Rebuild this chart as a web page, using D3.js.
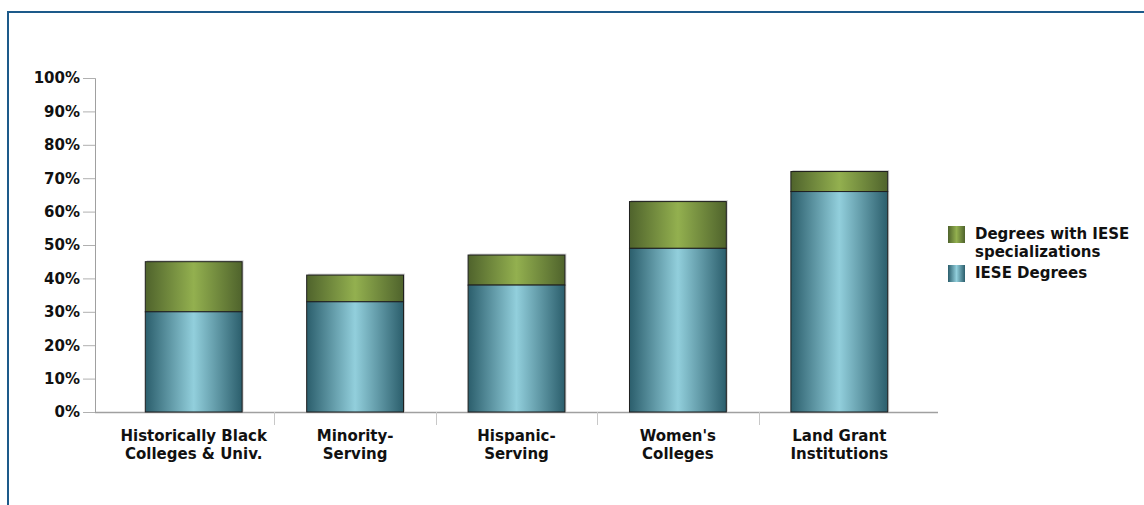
<!DOCTYPE html>
<html>
<head>
<meta charset="utf-8">
<script src="https://cdn.jsdelivr.net/npm/d3@7"></script>
<style>
  html, body { margin: 0; padding: 0; background: #fff; }
  svg { display: block; font-family: "DejaVu Sans", Verdana, sans-serif; font-weight: bold; }
</style>
</head>
<body>
<svg id="chart" width="1144" height="505"></svg>
<script>
// Share of degrees by institution type
const categories = [
  ["Historically Black", "Colleges & Univ."],
  ["Minority-", "Serving"],
  ["Hispanic-", "Serving"],
  ["Women's", "Colleges"],
  ["Land Grant", "Institutions"]
];
const ieseDegrees = [30, 33, 38, 49, 66];
const totalWithSpecializations = [45, 41, 47, 63, 72];
const yTicks = [0, 10, 20, 30, 40, 50, 60, 70, 80, 90, 100];
const legendLabels = [["Degrees with IESE", "specializations"], ["IESE Degrees"]];

const svg = d3.select("#chart");

// frame lines (top and left)
svg.append("line").attr("x1", 8).attr("x2", 1144).attr("y1", 12).attr("y2", 12)
  .attr("stroke", "#1d5a8a").attr("stroke-width", 2);
svg.append("line").attr("x1", 8).attr("x2", 8).attr("y1", 11).attr("y2", 505)
  .attr("stroke", "#1d5a8a").attr("stroke-width", 2);

const defs = svg.append("defs");
function hGrad(id, edge, mid) {
  const g = defs.append("linearGradient").attr("id", id)
    .attr("x1", "0%").attr("x2", "100%").attr("y1", "0%").attr("y2", "0%");
  g.append("stop").attr("offset", "0%").attr("stop-color", edge);
  g.append("stop").attr("offset", "50%").attr("stop-color", mid);
  g.append("stop").attr("offset", "100%").attr("stop-color", edge);
}
hGrad("gBlue", "#2b5e6c", "#92cfdc");
hGrad("gGreen", "#4f632c", "#93b04f");

const idx = d3.range(categories.length);
const x = d3.scaleBand().domain(idx).range([113, 920]).paddingInner(0.4).paddingOuter(0.2);
const y = d3.scaleLinear().domain([0, 100]).range([412, 78]);

// y axis
const yAxis = svg.append("g").attr("transform", "translate(95,0)")
  .call(d3.axisLeft(y).tickValues(yTicks).tickFormat(d => d + "%").tickSize(12).tickPadding(3));
yAxis.select(".domain").attr("stroke", "#a0a0a0").attr("d", "M-12,78.5H0.5V412.5");
yAxis.selectAll(".tick line").attr("stroke", "#b0b0b0");
yAxis.selectAll(".tick text").attr("fill", "#111").style("font-size", "15px")
  .style("font-family", "'DejaVu Sans', Verdana, sans-serif").style("font-weight", "bold");

// x axis baseline and category separators
const xg = svg.append("g");
xg.append("line").attr("x1", 95).attr("x2", 938).attr("y1", 412.5).attr("y2", 412.5)
  .attr("stroke", "#a0a0a0").attr("stroke-width", 1.5);
const step = x.step();
idx.slice(1).forEach(i => {
  const sx = Math.round(x(i) - (step - x.bandwidth()) / 2) + 0.5;
  xg.append("line").attr("x1", sx).attr("x2", sx).attr("y1", 412).attr("y2", 425)
    .attr("stroke", "#c8c8c8");
});

// category labels
idx.forEach(i => {
  const t = xg.append("text").attr("text-anchor", "middle")
    .attr("x", x(i) + x.bandwidth() / 2).attr("y", 441)
    .style("font-size", "15px").attr("fill", "#111");
  categories[i].forEach((line, k) => {
    t.append("tspan").attr("x", x(i) + x.bandwidth() / 2).attr("dy", k === 0 ? 0 : 18).text(line);
  });
});

// stacked bars
const bars = svg.append("g");
idx.forEach(i => {
  const bx = x(i), bw = x.bandwidth();
  // soft shadow
  bars.append("rect").attr("x", bx + 1.5).attr("y", y(totalWithSpecializations[i]) - 1.5)
    .attr("width", bw).attr("height", y(0) - y(totalWithSpecializations[i]) + 1.5)
    .attr("fill", "#d4d4d4");
  bars.append("rect").attr("x", bx).attr("y", y(totalWithSpecializations[i]))
    .attr("width", bw).attr("height", y(ieseDegrees[i]) - y(totalWithSpecializations[i]))
    .attr("fill", "url(#gGreen)").attr("stroke", "#1e1e1e").attr("stroke-width", 1);
  bars.append("rect").attr("x", bx).attr("y", y(ieseDegrees[i]))
    .attr("width", bw).attr("height", y(0) - y(ieseDegrees[i]))
    .attr("fill", "url(#gBlue)").attr("stroke", "#1e1e1e").attr("stroke-width", 1);
});

// legend
const legend = svg.append("g");
const swatches = [{ fill: "url(#gGreen)", y: 226 }, { fill: "url(#gBlue)", y: 265 }];
swatches.forEach((s, k) => {
  legend.append("rect").attr("x", 948).attr("y", s.y).attr("width", 17).attr("height", 17)
    .attr("fill", s.fill);
  const t = legend.append("text").attr("x", 975).attr("y", s.y + 13)
    .style("font-size", "15px").attr("fill", "#111");
  legendLabels[k].forEach((line, j) => {
    t.append("tspan").attr("x", 975).attr("dy", j === 0 ? 0 : 18).text(line);
  });
});
</script>
</body>
</html>
